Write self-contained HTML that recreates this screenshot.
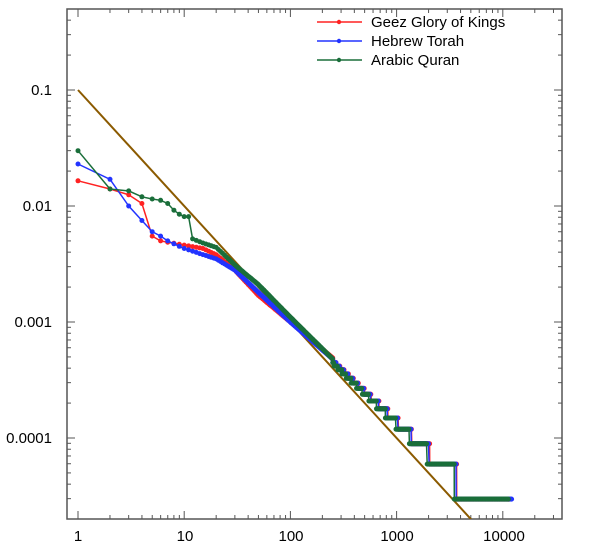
<!DOCTYPE html><html><head><style>body{margin:0;background:#fff;overflow:hidden}svg{display:block;font-family:"Liberation Sans",sans-serif}</style></head><body>
<svg id="s" width="600" height="554" xmlns="http://www.w3.org/2000/svg">
<rect x="67" y="9" width="495" height="510" fill="none" stroke="#555" stroke-width="1.5"/>
<g id="ax" stroke="#555" stroke-width="1"></g>
<g font-size="15" fill="#000">
<text x="52" y="95" text-anchor="end">0.1</text>
<text x="52" y="211" text-anchor="end">0.01</text>
<text x="52" y="327" text-anchor="end">0.001</text>
<text x="52" y="443" text-anchor="end">0.0001</text>
<text x="78" y="541" text-anchor="middle">1</text>
<text x="185" y="541" text-anchor="middle">10</text>
<text x="291" y="541" text-anchor="middle">100</text>
<text x="397" y="541" text-anchor="middle">1000</text>
<text x="504" y="541" text-anchor="middle">10000</text>
</g>
<clipPath id="c"><rect x="67" y="9" width="495" height="510"/></clipPath>
<line id="pl" x1="78" y1="90" x2="589" y2="601" stroke="#8B5A00" stroke-width="2" clip-path="url(#c)"/>
<g id="d" clip-path="url(#c)"></g>
<g font-size="15">
<line x1="317" y1="22" x2="362" y2="22" stroke="#f22" stroke-width="1.5"/><circle cx="339" cy="22" r="2.2" fill="#f22"/><text x="371" y="27">Geez Glory of Kings</text>
<line x1="317" y1="41" x2="362" y2="41" stroke="#23f" stroke-width="1.5"/><circle cx="339" cy="41" r="2.2" fill="#23f"/><text x="371" y="46">Hebrew Torah</text>
<line x1="317" y1="60" x2="362" y2="60" stroke="#1a6e3a" stroke-width="1.5"/><circle cx="339" cy="60" r="2.2" fill="#1a6e3a"/><text x="371" y="65">Arabic Quran</text>
</g>
</svg>
<script>
function X(r){return 78+106.2*Math.log10(r)}
function Y(f){return 90-116*(Math.log10(f)+1)}
var pl=document.getElementById('pl');pl.setAttribute('x2',X(10000));pl.setAttribute('y2',Y(0.1/10000));
var ax=document.getElementById('ax'),h='';
for(var e=0;e<5;e++)for(var m=1;m<10;m++){var x=X(m*Math.pow(10,e));if(x>562)continue;var L=m==1?8:4;
h+='<line x1="'+x+'" y1="519" x2="'+x+'" y2="'+(519-L)+'"/><line x1="'+x+'" y1="9" x2="'+x+'" y2="'+(9+L)+'"/>';}
for(var e=-5;e<0;e++)for(var m=1;m<10;m++){var y=Y(m*Math.pow(10,e));if(y<9||y>519)continue;var L=m==1?8:4;
h+='<line x1="67" y1="'+y+'" x2="'+(67+L)+'" y2="'+y+'"/><line x1="562" y1="'+y+'" x2="'+(562-L)+'" y2="'+y+'"/>';}
ax.innerHTML=h;
function interp(pts,r){for(var i=0;i<pts.length-1;i++){if(r<=pts[i+1][0]){var a=pts[i],b=pts[i+1];var t=(Math.log(r)-Math.log(a[0]))/(Math.log(b[0])-Math.log(a[0]));return Math.exp(Math.log(a[1])+t*(Math.log(b[1])-Math.log(a[1])));}}return pts[pts.length-1][1];}
var N=33600;
var S=[
{c:"#f22",n:11600,C:1900,p:[[1,.0165],[2,.014],[3,.0125],[4,.0105],[5,.0055],[6,.005],[10,.0046],[15,.0043],[20,.0038],[30,.0028],[50,.0017],[100,.001],[250,.00049]]},
{c:"#23f",n:12100,C:1881,p:[[1,.023],[2,.017],[3,.01],[4,.0075],[5,.006],[6,.0055],[7,.005],[10,.0043],[20,.0035],[30,.0028],[50,.0018],[100,.001],[250,.00048]]},
{c:"#1a6e3a",n:11300,C:1813,p:[[1,.03],[2,.014],[3,.0135],[4,.012],[5,.0115],[6,.0112],[7,.0105],[8,.0092],[9,.0085],[10,.0081],[11,.0081],[12,.0052],[15,.0048],[20,.0044],[30,.0031],[50,.0021],[100,.0011],[250,.00048]]}];
var g=document.getElementById('d'),out='';
S.forEach(function(s){var pts=[],mk='',lx=-9,ly=-9;
for(var r=1;r<=s.n;r++){var f;if(r<=250)f=interp(s.p,r);else f=Math.max(1,Math.round(s.C/Math.pow(r,0.87)))/N;
var x=X(r),y=Y(f);if(Math.abs(x-lx)>=0.7||Math.abs(y-ly)>=0.7||r==s.n){pts.push(x.toFixed(1)+','+y.toFixed(1));mk+='<circle cx="'+x.toFixed(1)+'" cy="'+y.toFixed(1)+'" r="2.5"/>';lx=x;ly=y;}}
out+='<polyline points="'+pts.join(' ')+'" fill="none" stroke="'+s.c+'" stroke-width="1.5"/><g fill="'+s.c+'">'+mk+'</g>';});
g.innerHTML=out;
</script>
</body></html>
